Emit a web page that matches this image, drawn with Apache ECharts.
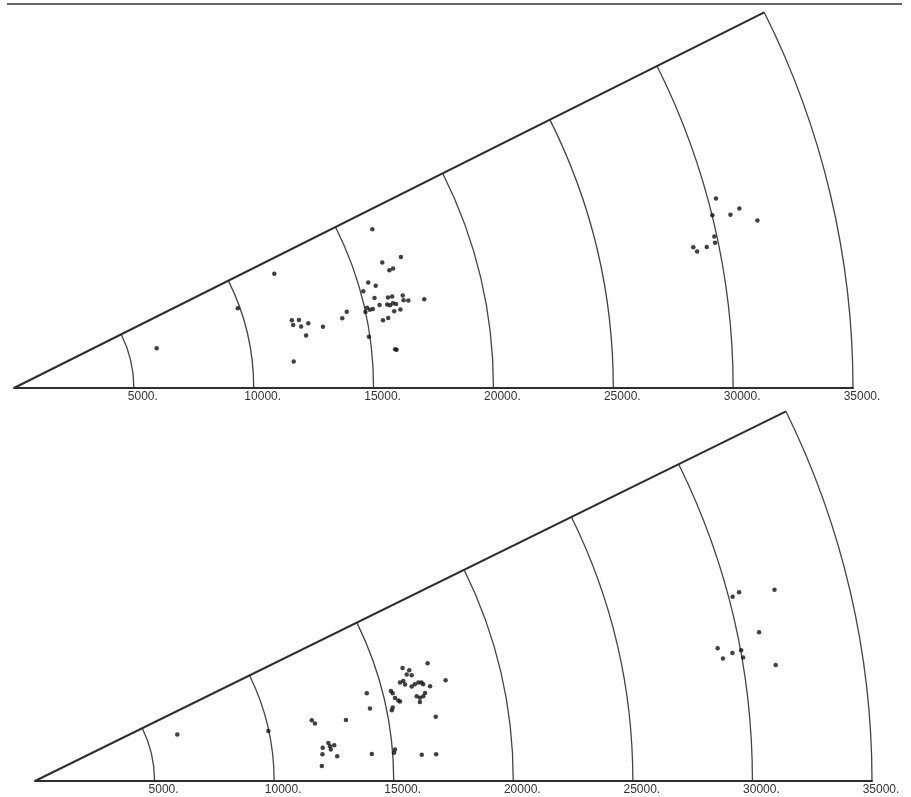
<!DOCTYPE html>
<html>
<head>
<meta charset="utf-8">
<script src="https://cdn.jsdelivr.net/npm/echarts@6.0.0/dist/echarts.min.js"></script>
<style>
  html, body { margin: 0; padding: 0; background: #ffffff; }
  #chart { width: 911px; height: 797px; }
</style>
</head>
<body>
<div id="chart"></div>
<script>
// ---- data: [radius, angle(deg)] ----
const radiusTicks = [5000, 10000, 15000, 20000, 25000, 30000, 35000];

const topNear = [
  [6180, 15.6], [9910, 19.6], [11860, 23.7], [11720, 5.4], [11930, 13.7],
  [11940, 12.7], [12220, 13.4], [12250, 12.1], [12570, 12.4], [12380, 10.2],
  [13140, 11.2], [14000, 12.0], [14240, 12.9], [16350, 23.9], [16230, 18.8],
  [17040, 18.7], [16410, 17.4], [16580, 17.5], [15420, 16.6], [15680, 15.8],
  [15120, 15.5], [15500, 14.0], [16050, 13.6], [16230, 13.6], [16670, 13.4],
  [16850, 12.5], [16660, 12.7], [15640, 12.8], [15950, 12.6], [16060, 12.4],
  [16200, 12.6], [16320, 12.4], [17510, 12.2], [15100, 12.8], [15200, 12.4],
  [15000, 12.2], [15330, 12.4], [16180, 11.4], [16450, 11.5], [15650, 10.4],
  [15880, 10.6], [14960, 8.2], [15980, 5.8], [16040, 5.7]
];
const topFar = [
  [30330, 15.1], [30010, 13.9], [30750, 13.6], [31170, 13.9], [31790, 12.7],
  [29890, 12.2], [29870, 11.7], [29490, 11.5], [28940, 11.7], [29060, 11.3]
];
const bottomNear = [
  [6260, 18.1], [9980, 12.1], [11850, 12.4], [11950, 11.6], [13250, 11.1],
  [12110, 6.6], [12070, 5.3], [12010, 3.0], [12370, 7.4], [12420, 6.7],
  [12440, 6.1], [12600, 6.8], [12680, 4.7], [14130, 4.6], [14350, 14.8],
  [14330, 12.2], [15270, 11.6], [15210, 11.2], [15110, 5.0], [15060, 4.5],
  [16210, 3.9], [16810, 3.8], [16970, 9.1], [17680, 13.8], [17140, 16.7],
  [16080, 17.1], [16320, 16.5], [16170, 16.0], [16360, 15.7], [15810, 15.1],
  [15960, 15.2], [15990, 14.6], [16240, 14.1], [16390, 14.3], [16550, 14.4],
  [16680, 14.3], [16730, 14.0], [16990, 13.5], [15350, 14.2], [15400, 13.8],
  [15450, 13.0], [15560, 12.5], [15620, 12.3], [16350, 12.5], [16470, 12.2],
  [16620, 12.3], [16720, 12.7], [16430, 11.6]
];
const bottomFar = [
  [30170, 14.8], [30480, 15.0], [31940, 14.5], [30910, 11.6], [29080, 11.0],
  [29220, 10.1], [29650, 10.4], [30030, 10.5], [30060, 9.9], [31350, 8.9]
];

// wedge spans (degrees)
const topSpan = 26.6;
const bottomSpan = 26.2;

const chart = echarts.init(document.getElementById('chart'), null, { renderer: 'canvas' });

function angleAxisFor(idx, span) {
  return {
    polarIndex: idx, type: 'value', min: 0, max: span, interval: span,
    startAngle: 0, endAngle: span, clockwise: false,
    axisLine: { show: false }, axisTick: { show: false }, axisLabel: { show: false },
    splitLine: { show: true, lineStyle: { color: '#2e2e2e', width: 2 } }
  };
}
function radiusAxisFor(idx) {
  return {
    polarIndex: idx, type: 'value', min: 0, max: 35000, interval: 5000,
    axisLine: { show: true, lineStyle: { color: '#2e2e2e', width: 2 } },
    axisTick: { show: false },
    axisLabel: {
      formatter: v => (radiusTicks.indexOf(v) >= 0 ? v + '.' : ''),
      fontSize: 12, color: '#333', fontFamily: 'Liberation Sans',
      verticalAlign: 'top', margin: -3,
      padding: [0, 0, 0, 18]
    },
    splitLine: { show: true, lineStyle: { color: '#444', width: 1.3 } }
  };
}
function dots(idx, data) {
  return {
    type: 'scatter', coordinateSystem: 'polar', polarIndex: idx,
    data: data, symbol: 'circle', symbolSize: 4.5,
    itemStyle: { color: '#111' }, silent: true
  };
}

chart.setOption({
  animation: false,
  backgroundColor: '#ffffff',
  graphic: [{
    type: 'line', shape: { x1: 7, y1: 4, x2: 902, y2: 4 },
    style: { stroke: '#666', lineWidth: 2 }
  }],
  polar: [
    { center: [14, 388], radius: [0, 839] },
    { center: [35, 781], radius: [0, 837] }
  ],
  angleAxis: [angleAxisFor(0, topSpan), angleAxisFor(1, bottomSpan)],
  radiusAxis: [radiusAxisFor(0), radiusAxisFor(1)],
  series: [dots(0, topNear), dots(0, topFar), dots(1, bottomNear), dots(1, bottomFar)]
});
</script>
</body>
</html>
